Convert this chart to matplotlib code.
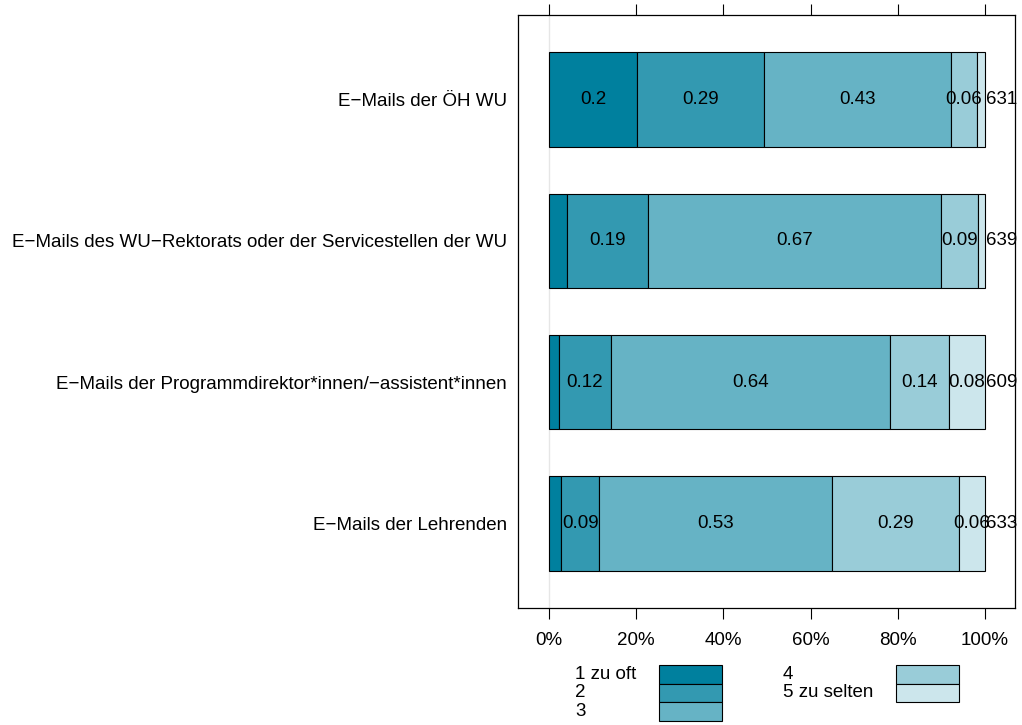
import matplotlib.pyplot as plt
from matplotlib.patches import Rectangle
import numpy as np

plt.rcParams['font.family'] = ['Liberation Sans', 'DejaVu Sans']

# items, top to bottom
items = ['E\u2212Mails der \u00d6H WU',
         'E\u2212Mails des WU\u2212Rektorats oder der Servicestellen der WU',
         'E\u2212Mails der Programmdirektor*innen/\u2212assistent*innen',
         'E\u2212Mails der Lehrenden']
n_resp = [631, 639, 609, 633]
levels = ['1 zu oft', '2', '3', '4', '5 zu selten']

# share per answer level (1..5) for each item
lvl1 = [0.202, 0.041, 0.022, 0.027]
lvl2 = [0.291, 0.187, 0.121, 0.089]
lvl3 = [0.429, 0.671, 0.639, 0.533]
lvl4 = [0.059, 0.086, 0.136, 0.291]
lvl5 = [0.019, 0.015, 0.082, 0.060]

colors = ['#00809E', '#3399B1', '#66B3C5', '#99CCD8', '#CCE6EC']
fs = 13.5

shares = np.array([lvl1, lvl2, lvl3, lvl4, lvl5])
ypos = np.arange(len(items), 0, -1)

fig = plt.figure(figsize=(10.22, 7.25), dpi=100)
ax = fig.add_axes([0.5068, 0.1614, 0.4864, 0.8179])

ax.axvline(0, color='#e6e6e6', lw=1, zorder=0)

left = np.zeros(len(items))
for k in range(shares.shape[0]):
    ax.barh(ypos, shares[k], left=left, height=0.67, color=colors[k],
            edgecolor='black', linewidth=0.8)
    for y, l, v in zip(ypos, left, shares[k]):
        if v >= 0.05:
            ax.text(l + v / 2, y, f'{round(v, 2):g}', ha='center', va='center',
                    fontsize=fs)
    left += shares[k]

for y, n in zip(ypos, n_resp):
    ax.text(1.003, y, str(n), ha='left', va='center', fontsize=fs)

ax.set_xlim(-0.071, 1.069)
ax.set_ylim(0.4, 4.6)
ax.set_xticks(np.arange(0, 1.01, 0.2))
ax.set_xticklabels([f'{int(round(t * 100))}%' for t in np.arange(0, 1.01, 0.2)],
                   fontsize=fs)
ax.set_yticks(ypos)
ax.set_yticklabels(items, fontsize=fs)
ax.tick_params(axis='y', length=0, pad=8)
ax.tick_params(axis='x', top=True, bottom=True, direction='out', length=8,
               width=0.8, pad=9)
for s in ax.spines.values():
    s.set_linewidth(0.9)

# legend below the plot
lax = fig.add_axes([0, 0, 1, 1], facecolor='none')
lax.set_xlim(0, 1022)
lax.set_ylim(725, 0)
lax.axis('off')
row_h = 18.6
cols = [(575, 659, levels[:3], colors[:3]), (783, 896, levels[3:], colors[3:])]
for tx, px, labs, cols_ in cols:
    for i, (lab, c) in enumerate(zip(labs, cols_)):
        y0 = 665 + i * row_h
        lax.add_patch(Rectangle((px, y0), 63, row_h, facecolor=c,
                                edgecolor='black', linewidth=0.8))
        lax.text(tx, y0 + row_h / 2, lab, ha='left', va='center', fontsize=fs)

fig.savefig('out.png', dpi=100)
